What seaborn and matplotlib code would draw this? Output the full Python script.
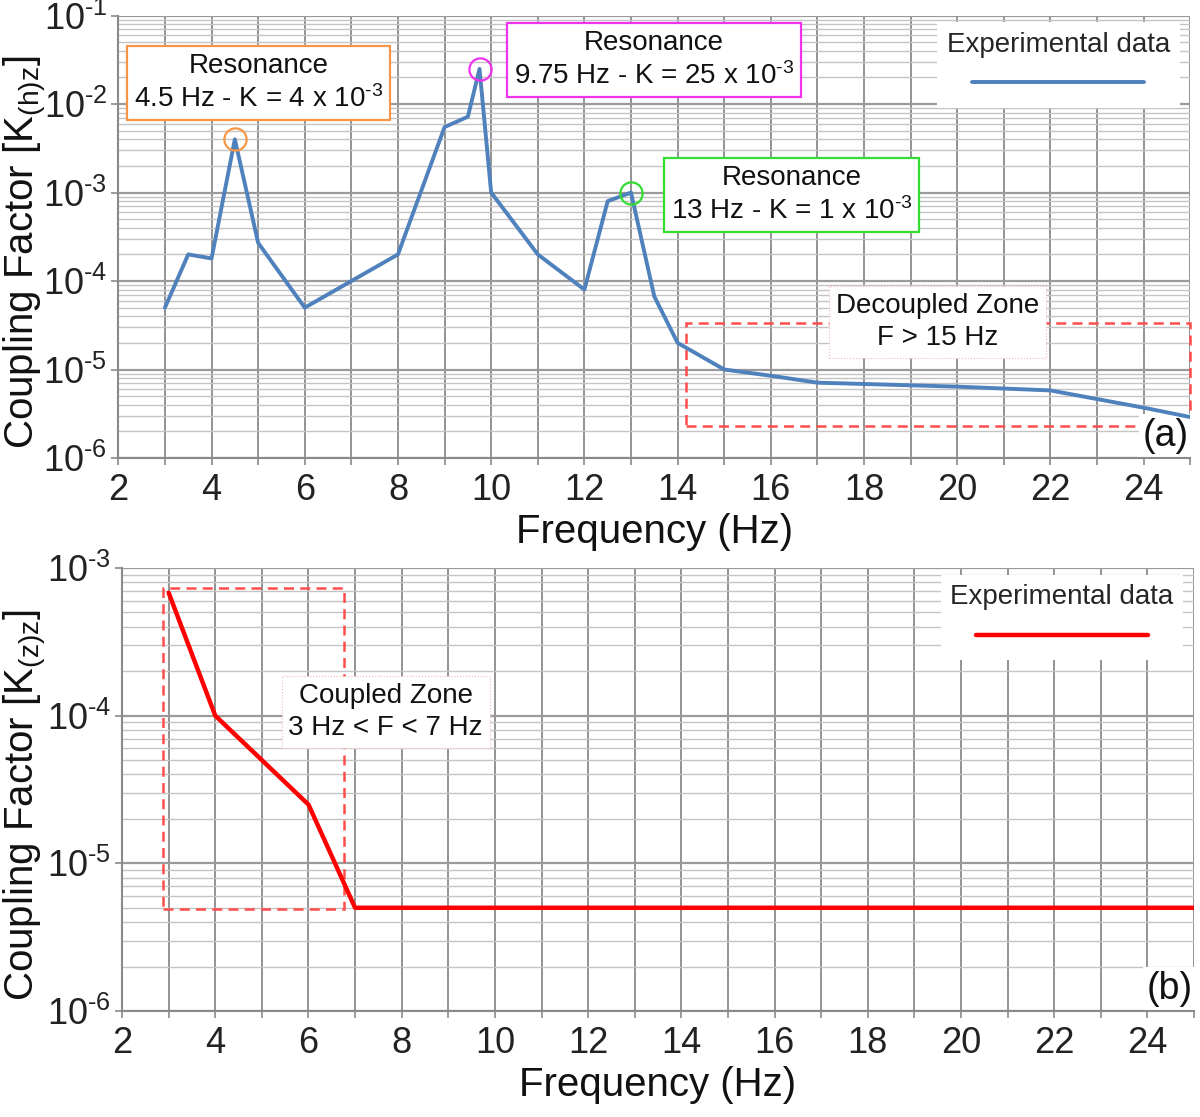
import numpy as np
import pandas as pd
import seaborn as sns
import matplotlib.pyplot as plt
from matplotlib.ticker import LogLocator, MultipleLocator, FuncFormatter, NullFormatter
from matplotlib.patches import Rectangle

# horizontal coupling K(h)z
freq_h = [3, 3.5, 4, 4.5, 5, 6, 7, 8, 9, 9.5, 9.75, 10, 11, 12, 12.5, 13, 13.5,
          14, 15, 16, 17, 20, 22, 24, 25]
k_h = [5e-5, 2e-4, 1.8e-4, 4e-3, 2.7e-4, 5e-5, 1e-4, 2e-4, 5.5e-3, 7.2e-3, 2.5e-2,
       1e-3, 2e-4, 8e-5, 8e-4, 1e-3, 6.7e-5, 2e-5, 1e-5, 8.5e-6, 7.1e-6, 6.4e-6,
       5.8e-6, 3.7e-6, 2.9e-6]

# vertical coupling K(z)z, panel (b)
freq_z = [3, 4, 5, 6, 7, 25]
k_z = [6.8e-4, 1e-4, 5e-5, 2.5e-5, 5e-6, 5e-6]

# resonance peaks marked with circles
peak_freq = [4.5, 9.75, 13]
peak_k = [4e-3, 2.5e-2, 1e-3]
peak_colors = ['#F79646', '#EE33EE', '#33DD33']
peak_texts = ['Resonance\n4.5 Hz - K = 4 x $\\mathregular{10^{\\text{-}3}}$',
              'Resonance\n9.75 Hz - K = 25 x $\\mathregular{10^{\\text{-}3}}$',
              'Resonance\n13 Hz - K = 1 x $\\mathregular{10^{\\text{-}3}}$']

df_h = pd.DataFrame({'freq': freq_h, 'K': k_h})
df_z = pd.DataFrame({'freq': freq_z, 'K': k_z})

sns.set_theme(style='white')
plt.rcParams['font.family'] = ['Liberation Sans', 'DejaVu Sans']
plt.rcParams['mathtext.fontset'] = 'custom'
plt.rcParams['mathtext.rm'] = 'Liberation Sans'
plt.rcParams['mathtext.it'] = 'Liberation Sans:italic'
plt.rcParams['mathtext.bf'] = 'Liberation Sans:bold'

fig = plt.figure(figsize=(12, 11.17), dpi=100)
ax1 = fig.add_axes([0.0986, 0.590, 0.8933, 0.396])
ax2 = fig.add_axes([0.1017, 0.0949, 0.8933, 0.3966])


def log_label(v, p):
    e = int(round(np.log10(v)))
    return r'$\mathregular{10^{\text{-}%d}}$' % abs(e)


def style_axis(ax, ylim):
    ax.set_yscale('log')
    ax.set_ylim(*ylim)
    ax.set_xlim(2, 25)
    ax.xaxis.set_major_locator(MultipleLocator(1))
    ax.xaxis.set_major_formatter(FuncFormatter(lambda v, p: f'{int(round(v))}' if round(v) % 2 == 0 else ''))
    ax.yaxis.set_major_locator(LogLocator(base=10, numticks=10))
    ax.yaxis.set_minor_locator(LogLocator(base=10, subs=np.arange(2, 10), numticks=20))
    ax.yaxis.set_minor_formatter(NullFormatter())
    ax.yaxis.set_major_formatter(FuncFormatter(log_label))
    ax.grid(True, axis='x', which='major', color='#8a8a8a', lw=1.3)
    ax.grid(True, axis='y', which='major', color='#9a9a9a', lw=1.6)
    ax.grid(True, axis='y', which='minor', color='#c4c4c4', lw=1.0)
    ax.set_axisbelow(True)
    ax.tick_params(axis='x', which='major', length=5, width=1.2, color='#8a8a8a', pad=6,
                   labelsize=26, labelcolor='#222222', bottom=True)
    ax.tick_params(axis='y', which='major', length=5, width=1.2, color='#8a8a8a', pad=3,
                   labelsize=26, labelcolor='#222222', left=True)
    ax.tick_params(axis='y', which='minor', length=0)
    for s in ['top', 'right']:
        ax.spines[s].set_visible(False)
    for s in ['left', 'bottom']:
        ax.spines[s].set_color('#8a8a8a')
        ax.spines[s].set_linewidth(1.5)
    ax.set_xlabel('Frequency (Hz)', fontsize=29, color='#111111')
    ax.xaxis.set_label_coords(0.5, -0.125)


def add_legend(ax):
    line = ax.get_lines()[0]
    ax.legend(handles=[line], labels=[''], title='Experimental data', loc='upper right',
              bbox_to_anchor=(0.99, 0.985), frameon=True, fancybox=False, framealpha=1,
              edgecolor='none', facecolor='white', handlelength=6.2, handletextpad=0,
              borderpad=0.35, fontsize=20, title_fontsize=20, borderaxespad=0)


# ---- panel (a)
style_axis(ax1, (1e-6, 1e-1))
sns.lineplot(data=df_h, x='freq', y='K', ax=ax1, color='#4F81BD', lw=2.8, legend=False, zorder=2)
for f, k, c in zip(peak_freq, peak_k, peak_colors):
    ax1.plot([f], [k], 'o', ms=16, mfc='none', mec=c, mew=1.6, zorder=3)

box_pos = [(0.131, 0.848), (0.4995, 0.899), (0.628, 0.595)]
for (bx, by), t, c in zip(box_pos, peak_texts, peak_colors):
    ax1.text(bx, by, t, transform=ax1.transAxes, ha='center', va='center', fontsize=20,
             linespacing=1.3, color='#111111',
             bbox=dict(boxstyle='square,pad=0.25', fc='white', ec=c, lw=1.6), zorder=4)

ax1.add_patch(Rectangle((14.17, 2.3e-6), 25 - 14.17, 3.35e-5 - 2.3e-6, fill=False,
                        ec='#FF4D4D', lw=1.8, ls=(0, (4, 2.5)), zorder=1.2, clip_on=False))
ax1.text(0.764, 0.307, 'Decoupled Zone\nF > 15 Hz', transform=ax1.transAxes, ha='center',
         va='center', fontsize=20, linespacing=1.3, color='#111111',
         bbox=dict(boxstyle='square,pad=0.25', fc='white', ec='#F2B8B8', lw=0.8, ls=':'), zorder=4)
ax1.text(0.999, 0.01, '(a)', transform=ax1.transAxes, ha='right', va='bottom', fontsize=27,
         color='#111111', bbox=dict(boxstyle='square,pad=0.1', fc='white', ec='none'), zorder=1.5)
ax1.set_ylabel('Coupling Factor [$\\mathregular{K_{(h)z}}$]', fontsize=29, color='#111111')
ax1.yaxis.set_label_coords(-0.0645, 0.466)
add_legend(ax1)

# ---- panel (b)
style_axis(ax2, (1e-6, 1e-3))
sns.lineplot(data=df_z, x='freq', y='K', ax=ax2, color='#FF0000', lw=3.2, legend=False, zorder=2)
ax2.add_patch(Rectangle((2.87, 4.9e-6), 6.77 - 2.87, 7.3e-4 - 4.9e-6, fill=False,
                        ec='#FF4D4D', lw=1.8, ls=(0, (4, 2.5)), zorder=1.2))
ax2.text(0.246, 0.675, 'Coupled Zone\n3 Hz < F < 7 Hz', transform=ax2.transAxes, ha='center',
         va='center', fontsize=20, linespacing=1.3, color='#111111',
         bbox=dict(boxstyle='square,pad=0.25', fc='white', ec='#F2B8B8', lw=0.8, ls=':'), zorder=4)
ax2.text(0.999, 0.01, '(b)', transform=ax2.transAxes, ha='right', va='bottom', fontsize=27,
         color='#111111', bbox=dict(boxstyle='square,pad=0.1', fc='white', ec='none'), zorder=1.5)
ax2.set_ylabel('Coupling Factor [$\\mathregular{K_{(z)z}}$]', fontsize=29, color='#111111')
ax2.yaxis.set_label_coords(-0.068, 0.466)
add_legend(ax2)

fig.savefig('out.png', dpi=100, facecolor='white')
